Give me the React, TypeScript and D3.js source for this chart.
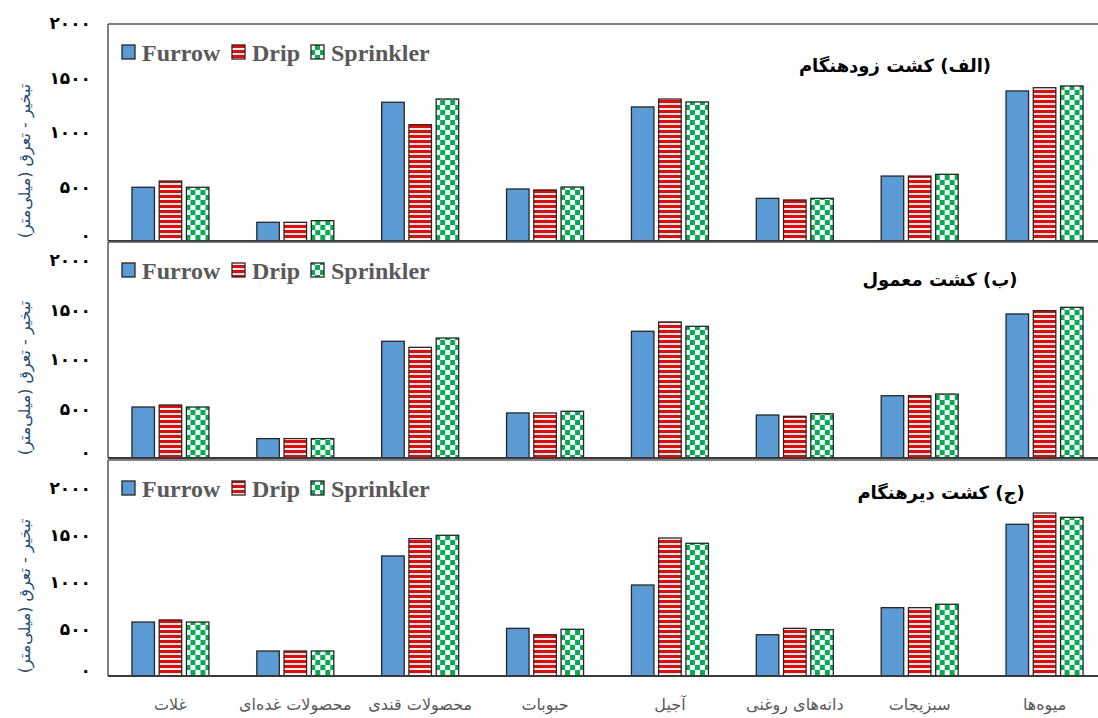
import React from "react";
import * as d3 from "d3";

const categories = [
  "غلات",
  "محصولات غده\u200cای",
  "محصولات قندی",
  "حبوبات",
  "آجیل",
  "دانه\u200cهای روغنی",
  "سبزیجات",
  "میوه\u200cها",
];
const seriesNames = ["Furrow", "Drip", "Sprinkler"];
const panelTitles = ["(الف) کشت زودهنگام", "(ب) کشت معمول", "(ج) کشت دیرهنگام"];
const yTicks = [0, 500, 1000, 1500, 2000];
const yAxisTitle = "تبخیر - تعرق (میلی\u200cمتر)";

// (الف) early planting
const earlyFurrow = [494, 172, 1275, 478, 1232, 392, 597, 1379];
const earlyDrip = [551, 172, 1069, 469, 1305, 377, 597, 1409];
const earlySprinkler = [494, 187, 1305, 496, 1278, 392, 613, 1425];
// (ب) normal planting
const normalFurrow = [515, 196, 1179, 455, 1280, 434, 629, 1455];
const normalDrip = [535, 196, 1118, 455, 1374, 421, 629, 1488];
const normalSprinkler = [515, 196, 1212, 472, 1330, 447, 646, 1522];
// (ج) late planting
const lateFurrow = [574, 266, 1277, 507, 968, 439, 727, 1614];
const lateDrip = [596, 266, 1461, 439, 1468, 507, 727, 1734];
const lateSprinkler = [574, 266, 1497, 497, 1412, 493, 763, 1688];

const panelData = [
  [earlyFurrow, earlyDrip, earlySprinkler],
  [normalFurrow, normalDrip, normalSprinkler],
  [lateFurrow, lateDrip, lateSprinkler],
];

// layout
const W = 1098;
const H = 718;
const plotLeft = 108;
const plotRight = 1107;
const panelTop = [24, 242, 460];
const panelBase = [241, 458, 676];
const panelScaleTop = [23.4, 260, 488];
const titleX = [895, 940, 941];
const titleY = [65, 279, 492];
const legendSquareX = [122, 232, 311];
const legendTextX = [142, 252, 331];

const fills = ["#5B9BD5", "url(#dripPat)", "url(#sprinklerPat)"];
const persianDigits = "۰۱۲۳۴۵۶۷۸۹";
const toPersian = (n: number) =>
  String(n).replace(/[0-9]/g, (c) => persianDigits[+c]);

export default function App() {
  const x0 = d3.scaleBand<string>().domain(categories).range([plotLeft, plotRight]);
  const groupW = 77;
  const x1 = d3
    .scaleBand<string>()
    .domain(seriesNames)
    .range([-groupW / 2, groupW / 2])
    .paddingInner(0.174);

  return (
    <svg
      width={W}
      height={H}
      style={{ position: "absolute", left: 0, top: 0, background: "#fff" }}
    >
      <defs>
        <pattern id="dripPat" patternUnits="userSpaceOnUse" width={6} height={5}>
          <rect width={6} height={5} fill="#ffffff" />
          <rect width={6} height={3} fill="#FF0000" />
        </pattern>
        <pattern id="sprinklerPat" patternUnits="userSpaceOnUse" width={10} height={10}>
          <rect width={10} height={10} fill="#ffffff" />
          <rect x={0} y={0} width={5} height={5} fill="#00B050" />
          <rect x={5} y={5} width={5} height={5} fill="#00B050" />
        </pattern>
      </defs>
      <rect width={W} height={H} fill="#fff" />
      {panelData.map((seriesVals, p) => {
        const y = d3
          .scaleLinear()
          .domain([0, 2000])
          .range([panelBase[p], panelScaleTop[p]]);
        const top = panelTop[p];
        const base = panelBase[p];
        return (
          <g key={p}>
            {/* frame */}
            <line x1={plotLeft} x2={W + 10} y1={top} y2={top} stroke="#595959" strokeWidth={1.5} />
            <line x1={plotLeft} x2={plotLeft} y1={top} y2={base} stroke="#595959" strokeWidth={1.5} />
            {/* bars */}
            {categories.map((c, ci) => (
              <g key={c} transform={`translate(${x0(c)! + x0.bandwidth() / 2},0)`}>
                {seriesNames.map((s, si) => {
                  const v = seriesVals[si][ci];
                  return (
                    <rect
                      key={s}
                      x={x1(s)!}
                      y={y(v)}
                      width={x1.bandwidth()}
                      height={y(0) - y(v)}
                      fill={fills[si]}
                      stroke="#262626"
                      strokeWidth={1.3}
                    />
                  );
                })}
              </g>
            ))}
            <line x1={plotLeft} x2={W + 10} y1={base} y2={base} stroke="#3a3a3a" strokeWidth={2} />
            {/* y ticks */}
            {yTicks.map((t) => (
              <text
                key={t}
                x={91}
                y={y(t) - (t === 0 ? 6 : 0)}
                textAnchor="end"
                dominantBaseline="central"
                fontFamily="DejaVu Sans"
                fontWeight="bold"
                fontSize={17}
                fill="#000"
              >
                {toPersian(t)}
              </text>
            ))}
            {/* y axis title */}
            <text
              transform={`translate(24,${base - 80}) rotate(-90)`}
              textAnchor="middle"
              dominantBaseline="central"
              fontFamily="DejaVu Sans"
              fontSize={16}
              fill="#1F4E79"
            >
              {yAxisTitle}
            </text>
            {/* legend */}
            {seriesNames.map((s, si) => (
              <g key={s}>
                <rect
                  x={legendSquareX[si]}
                  y={top + 28 - 7}
                  width={13}
                  height={14}
                  fill={fills[si]}
                  stroke="#262626"
                  strokeWidth={1.3}
                />
                <text
                  x={legendTextX[si]}
                  y={top + 29}
                  dominantBaseline="central"
                  fontFamily="Liberation Serif"
                  fontWeight="bold"
                  fontSize={24}
                  fill="#595959"
                >
                  {s}
                </text>
              </g>
            ))}
            {/* panel title */}
            <text
              x={titleX[p]}
              y={titleY[p]}
              textAnchor="middle"
              dominantBaseline="central"
              direction="rtl"
              fontFamily="DejaVu Sans"
              fontWeight="bold"
              fontSize={18}
              fill="#000"
            >
              {panelTitles[p]}
            </text>
          </g>
        );
      })}
      {/* x axis labels */}
      {categories.map((c) => (
        <text
          key={c}
          x={x0(c)! + x0.bandwidth() / 2}
          y={704}
          textAnchor="middle"
          dominantBaseline="central"
          direction="rtl"
          fontFamily="DejaVu Sans"
          fontSize={16}
          fill="#595959"
        >
          {c}
        </text>
      ))}
    </svg>
  );
}
